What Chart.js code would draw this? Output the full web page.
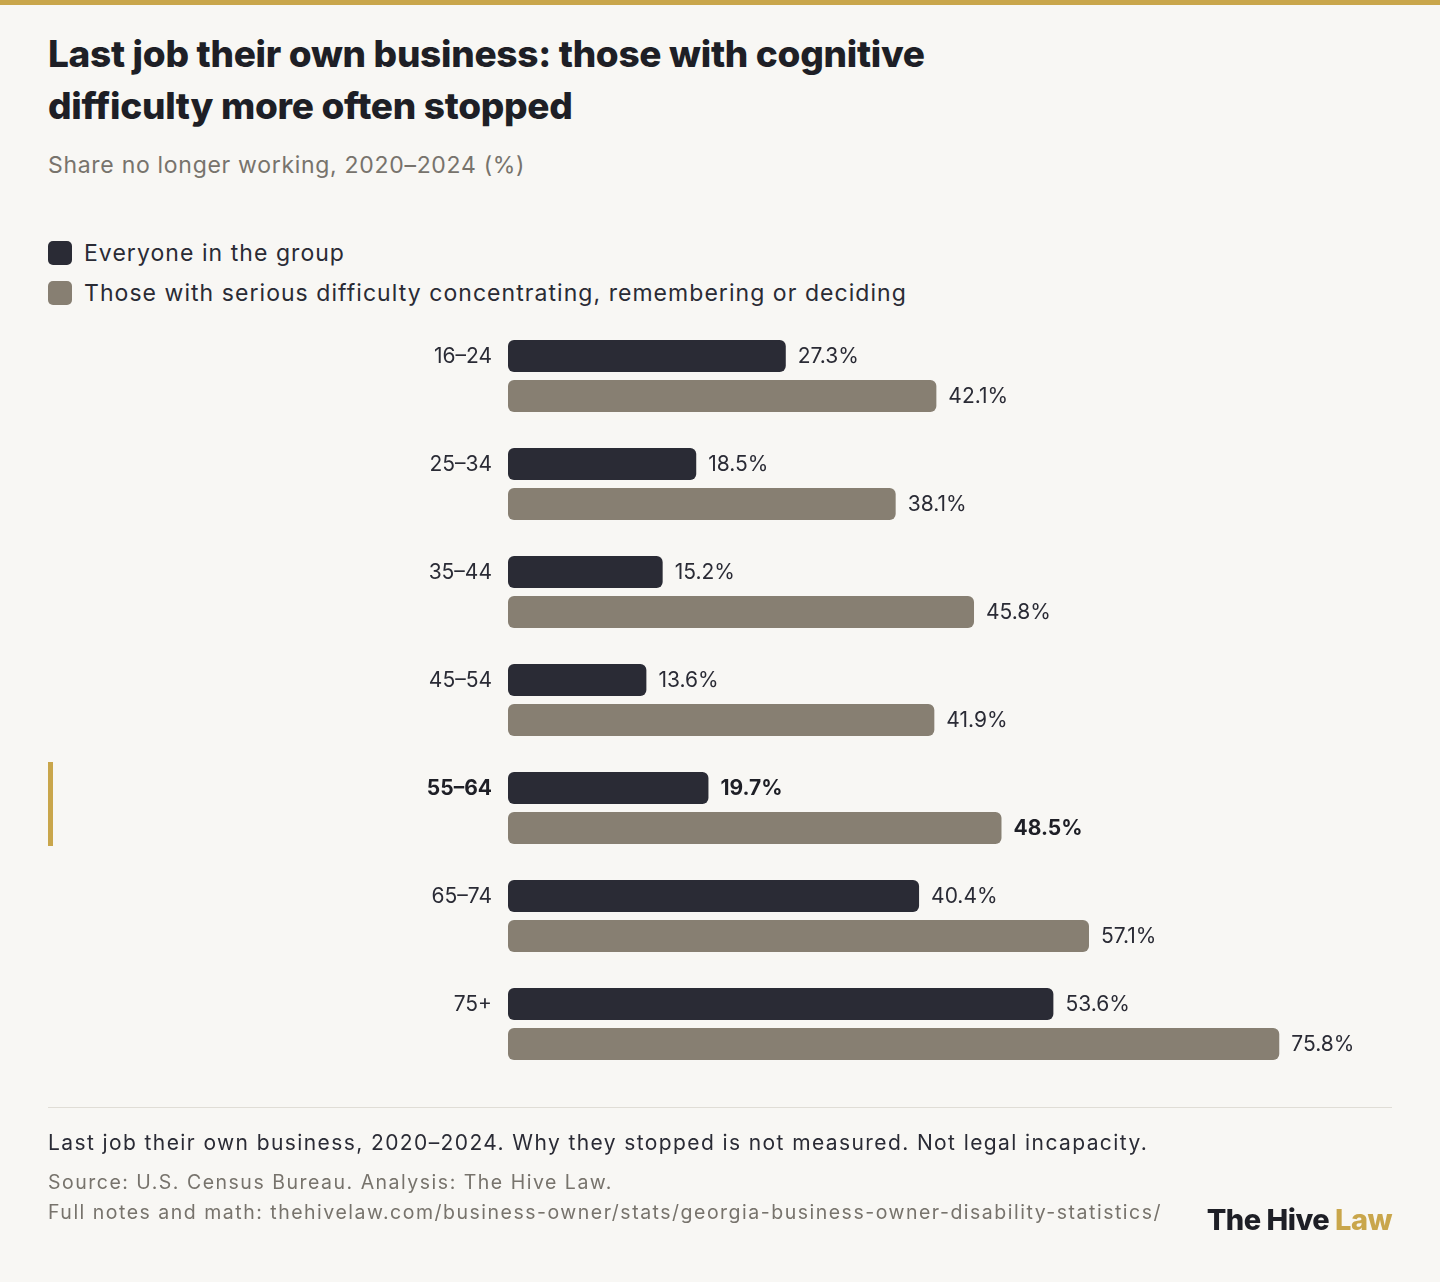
<!DOCTYPE html>
<html><head><meta charset="utf-8">
<script src="https://cdn.jsdelivr.net/npm/chart.js@4"></script>
<style>
body{margin:0;background:#f8f7f4;font-family:Inter,"Open Sans",sans-serif;}
#wrap{position:relative;width:1440px;height:1282px;overflow:hidden;background:#f8f7f4;}
.top{position:absolute;left:0;top:0;width:1440px;height:5px;background:#c9a64b;}
h1{position:absolute;left:48px;top:28px;margin:0;font-size:37px;line-height:52px;font-weight:800;color:#1e1f26;letter-spacing:-0.3px;width:950px;}
.sub{position:absolute;left:48px;top:151px;font-size:23px;color:#77736c;letter-spacing:0.7px;}
.leg{position:absolute;left:48px;font-size:23px;color:#2a2b35;display:flex;align-items:center;letter-spacing:1.05px;}
.leg i{display:inline-block;width:24px;height:24px;border-radius:5px;margin-right:12px;}
canvas{position:absolute;left:0;top:0;}
.hl{position:absolute;left:48px;top:762px;width:5px;height:84px;background:#c9a64b;}
.rule{position:absolute;left:48px;top:1107px;width:1344px;height:1px;background:#e0ddd6;}
.f1{position:absolute;left:48px;top:1130px;font-size:21px;color:#2a2b35;letter-spacing:1.4px;}
.f2{position:absolute;left:48px;font-size:19.5px;color:#77736c;letter-spacing:1.5px;}
.logo{position:absolute;right:48px;top:1202px;font-size:29px;font-weight:800;color:#1e1f26;letter-spacing:-0.5px;}
.logo span{color:#c9a64b;}
</style></head><body>
<div id="wrap">
<div class="top"></div>
<h1>Last job their own business: those with cognitive difficulty more often stopped</h1>
<div class="sub">Share no longer working, 2020–2024 (%)</div>
<div class="leg" style="top:239px"><i style="background:#2a2b35"></i>Everyone in the group</div>
<div class="leg" style="top:279px"><i style="background:#877f72"></i>Those with serious difficulty concentrating, remembering or deciding</div>
<div class="hl"></div>
<canvas id="c" width="1440" height="1282"></canvas>
<div class="rule"></div>
<div class="f1">Last job their own business, 2020–2024. Why they stopped is not measured. Not legal incapacity.</div>
<div class="f2" style="top:1170px">Source: U.S. Census Bureau. Analysis: The Hive Law.</div>
<div class="f2" style="top:1200px">Full notes and math: thehivelaw.com/business-owner/stats/georgia-business-owner-disability-statistics/</div>
<div class="logo">The Hive <span>Law</span></div>
</div>
<script>
const categories=["16–24","25–34","35–44","45–54","55–64","65–74","75+"];
const everyone=[27.3,18.5,15.2,13.6,19.7,40.4,53.6];
const cognitive=[42.1,38.1,45.8,41.9,48.5,57.1,75.8];
const highlight="55–64";
const F='Inter, "Open Sans", sans-serif';
const labels={id:'lbl',afterDatasetsDraw(ch){
  const c=ch.ctx;c.save();c.textBaseline='middle';
  ch.data.datasets.forEach((ds,di)=>{
    ch.getDatasetMeta(di).data.forEach((b,i)=>{
      const bold=categories[i]===highlight;
      c.font=(bold?'700 ':'400 ')+'21px '+F;c.fillStyle=bold?'#1e1f26':'#2a2b35';c.textAlign='left';
      c.fillText(ds.data[i].toFixed(1)+'%',b.x+12,b.y+1);
    });
  });
  const y=ch.scales.y;
  categories.forEach((t,i)=>{
    const bold=t===highlight;
    c.font=(bold?'700 ':'400 ')+'21px '+F;c.fillStyle=bold?'#1e1f26':'#2a2b35';c.textAlign='right';
    c.fillText(t,492,y.getPixelForValue(i)-19);
  });
  c.restore();
}};
new Chart(document.getElementById('c'),{type:'bar',
 data:{labels:categories,datasets:[
  {data:everyone,backgroundColor:'#2a2b35',borderRadius:6,borderSkipped:false},
  {data:cognitive,backgroundColor:'#877f72',borderRadius:6,borderSkipped:false}]},
 options:{indexAxis:'y',responsive:false,animation:false,devicePixelRatio:1,
  categoryPercentage:0.74,barPercentage:0.8,
  layout:{padding:{left:508,top:322,bottom:204,right:118}},
  plugins:{legend:{display:false},tooltip:{enabled:false}},
  scales:{x:{display:false,min:0,max:80},y:{display:false}}},
 plugins:[labels]});
</script>
</body></html>
